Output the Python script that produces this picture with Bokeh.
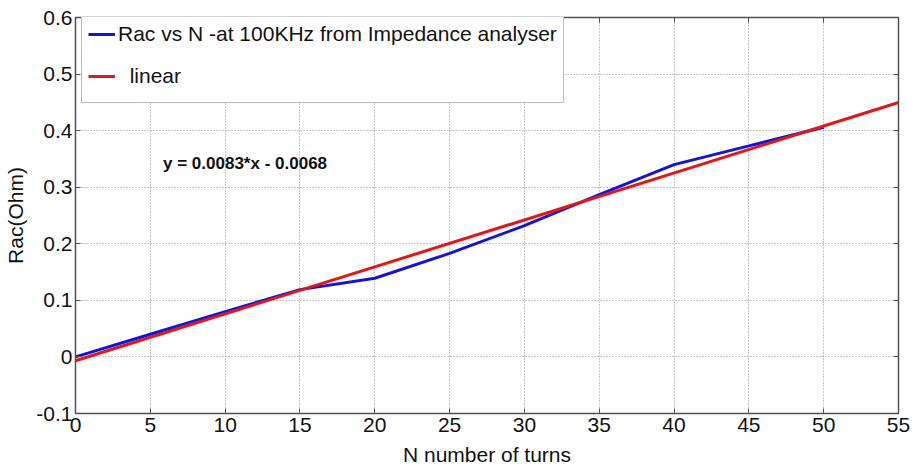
from bokeh.plotting import figure
from bokeh.models import Range1d, FixedTicker, LinearAxis, Legend, LegendItem, Label
from bokeh.embed import file_html
from bokeh.resources import INLINE

# ---- data ----
n_turns = [0, 5, 10, 15, 20, 25, 30, 35, 40, 45, 50]
rac_ohm = [0.0, 0.040, 0.080, 0.119, 0.139, 0.183, 0.232, 0.287, 0.340, 0.373, 0.406]
fit_n = [0, 55]
fit_rac = [-0.0068, 0.4497]
fit_text = "y = 0.0083*x - 0.0068"

x_ticks = [0, 5, 10, 15, 20, 25, 30, 35, 40, 45, 50, 55]
x_tick_labels = ["0", "5", "10", "15", "20", "25", "30", "35", "40", "45", "50", "55"]
y_ticks = [-0.1, 0, 0.1, 0.2, 0.3, 0.4, 0.5, 0.6]
y_tick_labels = ["-0.1", "0", "0.1", "0.2", "0.3", "0.4", "0.5", "0.6"]

series_names = ["Rac vs N -at 100KHz from Impedance analyser", "\u00a0\u00a0linear"]
x_label = "N number of turns"
y_label = "Rac(Ohm)"

FONT = "Liberation Sans"
AXC = "#505050"

p = figure(width=913, height=468, output_backend="svg", toolbar_location=None,
           x_range=Range1d(0, 55), y_range=Range1d(-0.1, 0.6),
           min_border_left=75, min_border_right=15, min_border_top=17, min_border_bottom=55)
p.outline_line_color = AXC
p.outline_line_width = 1.5

for ax in (p.xaxis[0], p.yaxis[0]):
    ax.major_tick_in = 5
    ax.major_tick_out = 0
    ax.minor_tick_line_color = None
    ax.axis_line_color = AXC
    ax.major_tick_line_color = AXC
    ax.major_label_text_font = FONT
    ax.major_label_text_font_size = "21px"
    ax.major_label_text_color = "#111111"
    ax.axis_label_text_font = FONT
    ax.axis_label_text_font_size = "21px"
    ax.axis_label_text_font_style = "normal"
    ax.axis_label_text_color = "#111111"

p.xaxis.ticker = FixedTicker(ticks=x_ticks)
p.xaxis.major_label_overrides = {t: l for t, l in zip(x_ticks, x_tick_labels)}
p.yaxis.ticker = FixedTicker(ticks=y_ticks)
p.yaxis.major_label_overrides = {t: l for t, l in zip(y_ticks, y_tick_labels)}
p.xaxis.axis_label = x_label
p.yaxis.axis_label = y_label
p.xaxis.major_label_standoff = 4
p.xaxis.axis_label_standoff = 8
p.yaxis.major_label_standoff = 3
p.yaxis.axis_label_standoff = 6

# mirrored inward ticks on right and top (no labels)
for side, ticks in (("right", y_ticks), ("above", x_ticks)):
    ax = LinearAxis(ticker=FixedTicker(ticks=ticks), major_tick_in=5, major_tick_out=0,
                    minor_tick_line_color=None, axis_line_color=AXC, major_tick_line_color=AXC,
                    major_label_text_font_size="0px", major_label_text_color=None,
                    major_label_standoff=0)
    p.add_layout(ax, side)

p.xgrid.ticker = FixedTicker(ticks=x_ticks)
p.ygrid.ticker = FixedTicker(ticks=y_ticks)
for g in (p.xgrid[0], p.ygrid[0]):
    g.grid_line_color = "#8c8c8c"
    g.grid_line_dash = "1 2"
    g.grid_line_width = 1

blue = p.line(n_turns, rac_ohm, line_color="#1414d8", line_width=3)
red = p.line(fit_n, fit_rac, line_color="#e01818", line_width=3)

p.add_layout(Label(x=5.85, y=0.342, text=fit_text, text_font=FONT, text_font_size="17px",
                   text_font_style="bold", text_baseline="middle", text_color="#111111"))

legend = Legend(items=[LegendItem(label=series_names[0], renderers=[blue]),
                       LegendItem(label=series_names[1], renderers=[red])],
                location=(6, 310), padding=6, margin=0, spacing=2,
                glyph_width=27, glyph_height=40, label_height=40, label_standoff=3,
                label_text_font=FONT, label_text_font_size="21px", label_text_color="#111111",
                border_line_color="#7a7a7a", border_line_width=1,
                background_fill_color="white", background_fill_alpha=1)
p.add_layout(legend, "center")

open("out.html", "w").write(file_html(p, INLINE))
